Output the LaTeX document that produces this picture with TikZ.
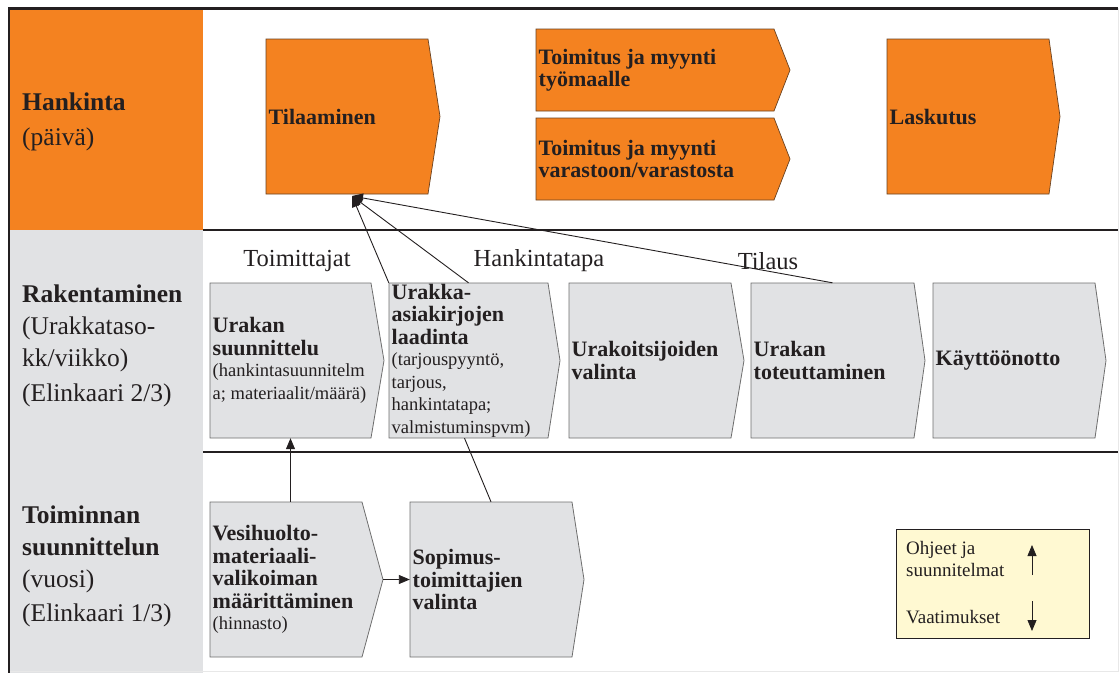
\documentclass[tikz,border=0pt]{standalone}
\usepackage{fontspec}
\setmainfont{Liberation Serif}
\usetikzlibrary{arrows.meta,calc,fit}

\definecolor{hkorange}{RGB}{244,130,32}
\definecolor{hkedge}{RGB}{105,66,34}
\definecolor{panelgray}{RGB}{225,226,228}
\definecolor{boxgray}{RGB}{225,226,228}
\definecolor{boxedge}{RGB}{110,110,110}
\definecolor{ink}{RGB}{35,31,32}
\definecolor{legendfill}{RGB}{255,249,210}
\definecolor{faint}{RGB}{232,232,232}

\newcommand\boxtitlefont{\fontsize{22}{22.5}\selectfont\bfseries}
\newcommand\nf{\fontsize{18.5}{19}\selectfont\mdseries}

\tikzset{
  orangestep/.style={fill=hkorange, draw=hkedge, line width=0.7pt},
  graystep/.style={fill=boxgray, draw=boxedge, line width=0.8pt},
  steptext/.style={anchor=west, align=left, inner xsep=2.5pt, inner ysep=0pt,
    text=ink, font=\boxtitlefont},
  rowtitle/.style={anchor=west, align=left, inner sep=0pt, text=ink,
    font=\fontsize{25.5}{32}\selectfont},
  flowlabel/.style={inner sep=0pt, text=ink, font=\fontsize{24.5}{28}\selectfont},
  legendtext/.style={anchor=west, align=left, inner sep=0pt, text=ink,
    font=\fontsize{19}{21.5}\selectfont},
  conn/.style={draw=ink, line width=0.9pt},
  connarrow/.style={conn, -{Triangle[length=11pt,width=9pt]}},
  framerule/.style={draw=ink, line width=2pt},
}

% \stepshape{style}{name}{left}{top}{right}{bottom}{tip x}{text}
\newcommand\stepshape[8]{%
  \draw[#1] (#3,#4) -- (#5,#4) -- (#7,{(#4+#6)/2}) -- (#5,#6) -- (#3,#6) -- cycle;
  \path (#3,#4) coordinate (#2-nw) (#5,#6) coordinate (#2-se)
        (#7,{(#4+#6)/2}) coordinate (#2-tip);
  \node[fit=(#2-nw)(#2-se), inner sep=0pt] (#2) {};
  \node[steptext] (#2-text) at (#3,{(#4+#6)/2}) {#8};
}

\begin{document}
\begin{tikzpicture}[x=1pt,y=-1pt]
\useasboundingbox (0,0) rectangle (1120,673);

% row header column
\fill[hkorange] (9,8) rectangle (203,230);
\fill[panelgray] (9,230) rectangle (203,673);

% frame and row separators
\draw[faint, line width=1pt] (1118,8) -- (1118,671) -- (9,671);
\draw[framerule] (9,8) -- (9,673);
\draw[draw=ink, line width=3pt] (8,8) -- (1118,8);
\draw[framerule] (203,230) -- (1118,230);
\draw[framerule] (203,452) -- (1118,452);

% row titles
\node[rowtitle] (row-hankinta) at (22,122) {\textbf{Hankinta}\\[3pt](päivä)};
\node[rowtitle] (row-rakentaminen) at (22,346)
  {\textbf{Rakentaminen}\\(Urakkataso-\\kk/viikko)\\[3pt](Elinkaari 2/3)};
\node[rowtitle] (row-toiminta) at (22,566)
  {\textbf{Toiminnan}\\\textbf{suunnittelun}\\(vuosi)\\[2pt](Elinkaari 1/3)};

% procurement steps
\stepshape{orangestep}{tila}{266}{39}{428}{194}{440}{Tilaaminen}
\stepshape{orangestep}{tm1}{536}{29}{774}{111}{790}{Toimitus ja myynti\\työmaalle}
\stepshape{orangestep}{tm2}{536}{118}{774}{200}{790}{Toimitus ja myynti\\varastoon/varastosta}
\stepshape{orangestep}{lask}{887}{39}{1049}{194}{1060}{Laskutus}

% construction steps
\stepshape{graystep}{b1}{210}{283}{371}{438}{384}
  {Urakan\\suunnittelu\\[-1pt]\nf(hankintasuunnitelm\\\nf a; materiaalit/määrä)}
\stepshape{graystep}{b2}{389}{283}{548}{438}{560}
  {Urakka-\\asiakirjojen\\laadinta\\[-1pt]\nf(tarjouspyyntö,\\\nf tarjous,\\\nf hankintatapa;\\\nf valmistuminspvm)}
\stepshape{graystep}{b3}{569}{283}{731}{438}{744}{Urakoitsijoiden\\valinta}
\stepshape{graystep}{b4}{751}{283}{914}{438}{925}{Urakan\\toteuttaminen}
\stepshape{graystep}{b5}{933}{283}{1095}{438}{1106}{Käyttöönotto}

% planning steps
\stepshape{graystep}{v}{210}{502}{362}{657}{383}
  {Vesihuolto-\\materiaali-\\valikoiman\\määrittäminen\\[-1pt]\nf(hinnasto)}
\stepshape{graystep}{s}{410}{502}{572}{657}{584}{Sopimus-\\toimittajien\\valinta}

% flow labels
\node[flowlabel] (lbl-toim) at (297,261) {Toimittajat};
\node[flowlabel] (lbl-tapa) at (539,261) {Hankintatapa};
\node[flowlabel] (lbl-tilaus) at (768,261) {Tilaus};

% connectors
\coordinate (tilahook) at (352,196);
\draw[connarrow] (b2.north west) -- (tilahook);
\draw[connarrow] (b2.north) -- (tilahook);
\draw[connarrow] (b4.north) -- (tilahook);
\draw[connarrow] (v.north -| b1.south) -- (b1.south);
\draw[connarrow] (v-tip) -- (s.west);
\draw[conn] ($(b2.south)+(-4,0)$) -- (s.north);

% legend
\node[draw=ink, fill=legendfill, line width=0.9pt, minimum width=193pt,
      minimum height=109pt, inner sep=0pt] (legend) at (992.5,583.5) {};
\node[legendtext] (leg-ohjeet) at (906,559) {Ohjeet ja\\suunnitelmat};
\node[legendtext] (leg-vaat) at (906,617) {Vaatimukset};
\coordinate (leg-up-a) at (1032,575);
\coordinate (leg-up-b) at (1032,545);
\coordinate (leg-dn-a) at (1032,601);
\coordinate (leg-dn-b) at (1032,631);
\draw[conn, line width=0.8pt, -{Triangle[length=11pt,width=9pt]}] (leg-up-a) -- (leg-up-b);
\draw[conn, line width=0.8pt, -{Triangle[length=11pt,width=9pt]}] (leg-dn-a) -- (leg-dn-b);
\end{tikzpicture}
\end{document}
